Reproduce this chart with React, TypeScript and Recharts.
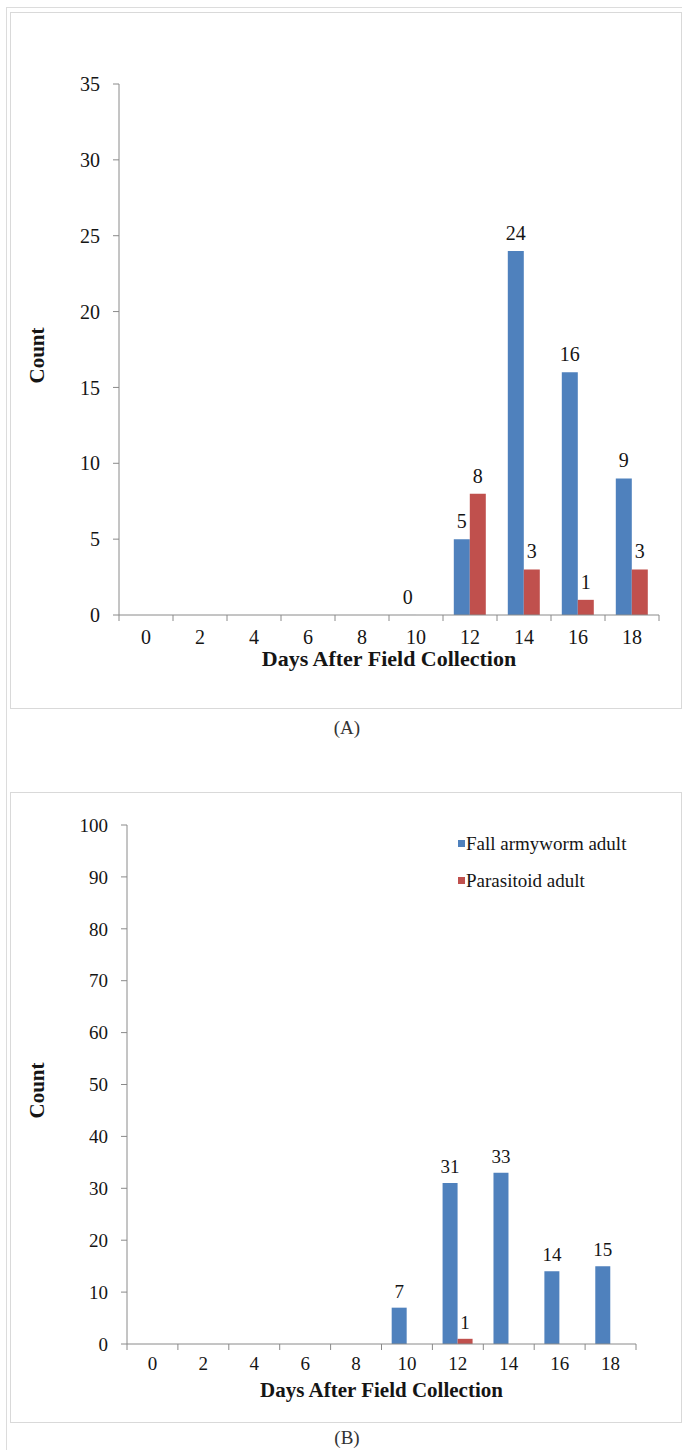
import React from 'react';
import { BarChart, Bar, XAxis, YAxis, Label, LabelList, Legend } from 'recharts';

const days = ['0', '2', '4', '6', '8', '10', '12', '14', '16', '18'];

// panel A
const armywormA = [null, null, null, null, null, 0, 5, 24, 16, 9];
const parasitoidA = [null, null, null, null, null, null, 8, 3, 1, 3];
const ticksA = [0, 5, 10, 15, 20, 25, 30, 35];

// panel B
const armywormB = [null, null, null, null, null, 7, 31, 33, 14, 15];
const parasitoidB = [null, null, null, null, null, null, 1, null, null, null];
const ticksB = [0, 10, 20, 30, 40, 50, 60, 70, 80, 90, 100];

const seriesNames = ['Fall armyworm adult', 'Parasitoid adult'];

const BLUE = '#4F81BD';
const RED = '#C0504D';
const AXIS = '#8a8a8a';
const INK = '#151515';
const SERIF = "'Liberation Serif', 'Times New Roman', serif";
const W = 682;
const Y_AXIS_W = 60;

const dataA = days.map((d, i) => ({ day: d, faw: armywormA[i], para: parasitoidA[i] }));
const dataB = days.map((d, i) => ({ day: d, faw: armywormB[i], para: parasitoidB[i] }));

// keep zero-valued bars alive (as a hairline) so their "0" label is drawn
const zeroSize = (v: any) => (v === 0 ? 0.05 : 0);

// value label above a bar; a zero still gets its "0"
const ValueLabel = ({ x, y, width, value, offset, fontSize }: any) => {
  if (value === null || value === undefined) return null;
  return (
    <text x={x + width / 2} y={y - offset} textAnchor="middle" fontSize={fontSize} fontFamily={SERIF} fill={INK}>
      {String(value)}
    </text>
  );
};

// x ticks sit between categories, like the Excel original
const BoundaryTick = ({ x, y, payload, index, half, margin, fontSize }: any) => {
  const axisY = y - margin;
  return (
    <g>
      <line x1={x - half} x2={x - half} y1={axisY} y2={axisY + 6} stroke={AXIS} />
      {index === days.length - 1 && (
        <line x1={x + half} x2={x + half} y1={axisY} y2={axisY + 6} stroke={AXIS} />
      )}
      <text x={x} y={y} dy="0.71em" textAnchor="middle" fontSize={fontSize} fontFamily={SERIF} fill={INK}>
        {payload.value}
      </text>
    </g>
  );
};

const CountLabel = ({ viewBox, dx }: any) => {
  const cx = viewBox.x + dx;
  const cy = viewBox.y + viewBox.height / 2 + 6;
  return (
    <text
      x={cx}
      y={cy}
      transform={`rotate(-90, ${cx}, ${cy})`}
      textAnchor="middle"
      dominantBaseline="central"
      fontSize={21}
      fontWeight="bold"
      fontFamily={SERIF}
      fill={INK}
    >
      Count
    </text>
  );
};

const LegendBox = ({ payload }: any) => (
  <div style={{ fontFamily: SERIF, fontSize: 19, color: INK }}>
    {(payload || []).map((p: any) => (
      <div key={p.value} style={{ display: 'flex', alignItems: 'center', height: 37 }}>
        <span style={{ width: 7, height: 7, background: p.color, marginRight: 1, display: 'inline-block' }} />
        {p.value}
      </div>
    ))}
  </div>
);

interface PanelProps {
  data: any[];
  height: number;
  margin: { top: number; right: number; bottom: number; left: number };
  yMax: number;
  yTicks: number[];
  fontSize: number;
  titleSize: number;
  tickMargin: number;
  titleOffset: number;
  countDx: number;
  labelOffset: number;
  withLegend?: boolean;
}

function Panel({ data, height, margin, yMax, yTicks, fontSize, titleSize, tickMargin, titleOffset, countDx, labelOffset, withLegend }: PanelProps) {
  const plotW = W - margin.left - margin.right - Y_AXIS_W;
  const half = plotW / days.length / 2;
  return (
    <BarChart width={W} height={height} data={data} margin={margin} barGap={0} barCategoryGap="20%">
      <XAxis
        dataKey="day"
        interval={0}
        height={30}
        tickSize={0}
        tickMargin={tickMargin}
        tickLine={false}
        axisLine={{ stroke: AXIS }}
        tick={(p: any) => <BoundaryTick {...p} half={half} margin={tickMargin} fontSize={fontSize} />}
      >
        <Label
          value="Days After Field Collection"
          position="bottom"
          offset={titleOffset}
          fontSize={titleSize}
          fontWeight="bold"
          fontFamily={SERIF}
          fill={INK}
        />
      </XAxis>
      <YAxis
        width={Y_AXIS_W}
        domain={[0, yMax]}
        ticks={yTicks}
        interval={0}
        tickSize={6}
        tickMargin={13}
        axisLine={{ stroke: AXIS }}
        tickLine={{ stroke: AXIS }}
        tick={{ fontSize, fontFamily: SERIF, fill: INK }}
      >
        <Label content={(p: any) => <CountLabel {...p} dx={countDx} />} />
      </YAxis>
      {withLegend && (
        <Legend
          layout="vertical"
          align="center"
          verticalAlign="middle"
          content={<LegendBox />}
          wrapperStyle={{ left: 458, top: 45, width: 210 }}
        />
      )}
      <Bar dataKey="faw" name={seriesNames[0]} fill={BLUE} minPointSize={zeroSize} isAnimationActive={false}>
        <LabelList dataKey="faw" content={(p: any) => <ValueLabel {...p} offset={labelOffset} fontSize={fontSize} />} />
      </Bar>
      <Bar dataKey="para" name={seriesNames[1]} fill={RED} minPointSize={zeroSize} isAnimationActive={false}>
        <LabelList dataKey="para" content={(p: any) => <ValueLabel {...p} offset={labelOffset} fontSize={fontSize} />} />
      </Bar>
    </BarChart>
  );
}

const frame: React.CSSProperties = { position: 'absolute', border: '1px solid #d9d9d9', boxSizing: 'border-box' };
const caption: React.CSSProperties = {
  position: 'absolute',
  width: 100,
  textAlign: 'center',
  fontFamily: SERIF,
  fontSize: 19,
  color: '#333',
  lineHeight: '20px',
};

export default function App() {
  return (
    <div style={{ position: 'absolute', left: 0, top: 0, width: W, height: 1450, background: '#fff', overflow: 'hidden' }}>
      <div style={{ position: 'absolute', left: 6, top: 7, width: 700, height: 1500, borderLeft: '1px solid #dcdcdc', borderTop: '1px solid #dcdcdc' }} />
      <div style={{ ...frame, left: 10, top: 12, width: 672, height: 697 }} />
      <div style={{ ...frame, left: 10, top: 792, width: 672, height: 631 }} />

      <div style={{ position: 'absolute', left: 0, top: 0 }}>
        <Panel
          data={dataA}
          height={700}
          margin={{ top: 84, right: 23, bottom: 55, left: 59 }}
          yMax={35}
          yTicks={ticksA}
          fontSize={20}
          titleSize={22}
          tickMargin={15}
          titleOffset={5}
          countDx={-22}
          labelOffset={11}
        />
      </div>
      <div style={{ ...caption, left: 297, top: 718 }}>(A)</div>

      <div style={{ position: 'absolute', left: 0, top: 780 }}>
        <Panel
          data={dataB}
          height={680}
          margin={{ top: 45, right: 46, bottom: 86, left: 67 }}
          yMax={100}
          yTicks={ticksB}
          fontSize={19}
          titleSize={21}
          tickMargin={13}
          titleOffset={8}
          countDx={-30}
          labelOffset={10}
          withLegend
        />
      </div>
      <div style={{ ...caption, left: 297, top: 1428 }}>(B)</div>
    </div>
  );
}
